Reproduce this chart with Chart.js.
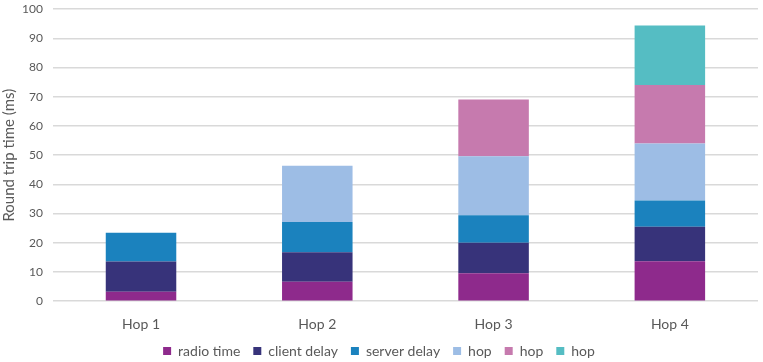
<!DOCTYPE html>
<html>
<head>
<meta charset="utf-8">
<script src="https://cdn.jsdelivr.net/npm/chart.js@4.4.0/dist/chart.umd.min.js"></script>
<style>
  html, body { margin: 0; padding: 0; background: #fff; }
  #wrap { width: 763px; height: 362px; }
</style>
</head>
<body>
<div id="wrap"><canvas id="chart"></canvas></div>
<script>
const hops = ['Hop 1', 'Hop 2', 'Hop 3', 'Hop 4'];
const radioTime = [3.2, 6.7, 9.6, 13.7];
const clientDelay = [10.4, 10.1, 10.4, 11.8];
const serverDelay = [9.8, 10.3, 9.4, 9.0];
const hopA = [0, 19.3, 20.2, 19.5];
const hopB = [0, 0, 19.5, 20.0];
const hopC = [0, 0, 0, 20.4];
const yTicks = [0, 10, 20, 30, 40, 50, 60, 70, 80, 90, 100];

Chart.defaults.font.family = "Lato, 'Open Sans', sans-serif";
Chart.defaults.color = '#595959';

const series = [
    { label: 'radio time', data: radioTime, color: '#8e2a8c' },
    { label: 'client delay', data: clientDelay, color: '#37337a' },
    { label: 'server delay', data: serverDelay, color: '#1b82be' },
    { label: 'hop', data: hopA, color: '#9dbde5' },
    { label: 'hop', data: hopB, color: '#c67aae' },
    { label: 'hop', data: hopC, color: '#55bdc3' },
];

// legend padding also pads it vertically, so take some height back
// and draw the row a bit higher
const tightLegend = {
    id: 'tightLegend',
    afterInit(chart) {
        const lg = chart.legend;
        const fit = lg.fit;
        const draw = lg.draw;
        lg.fit = function () {
            fit.call(this);
            this.height -= 15;
        };
        lg.draw = function () {
            this.top -= 9;
            draw.call(this);
            this.top += 9;
        };
    }
};

const ctx = document.getElementById('chart').getContext('2d');
new Chart(ctx, {
    type: 'bar',
    data: {
        labels: hops,
        datasets: series.map(s => ({
            label: s.label,
            data: s.data,
            backgroundColor: s.color,
            borderWidth: 0,
            categoryPercentage: 0.4,
            barPercentage: 1,
        })),
    },
    plugins: [tightLegend],
    options: {
        responsive: true,
        maintainAspectRatio: false,
        animation: false,
        layout: { padding: { left: 0, right: 5, top: 0, bottom: 0 } },
        plugins: {
            legend: {
                position: 'bottom',
                labels: {
                    boxWidth: 8,
                    boxHeight: 8,
                    padding: 13,
                    font: { size: 14 },
                    color: '#595959'
                }
            },
            tooltip: { enabled: false }
        },
        scales: {
            x: {
                stacked: true,
                grid: { display: false },
                border: { display: false },
                ticks: { font: { size: 14 }, color: '#595959', padding: 7 }
            },
            y: {
                stacked: true,
                min: 0,
                max: 100,
                afterBuildTicks: axis => { axis.ticks = yTicks.map(v => ({ value: v })); },
                grid: { color: '#d9d9d9', lineWidth: 1.5, tickLength: 8, tickColor: 'rgba(0,0,0,0)' },
                border: { display: false },
                title: {
                    display: true,
                    text: 'Round trip time (ms)',
                    font: { size: 15 },
                    color: '#595959',
                    padding: { top: 0, bottom: 2 }
                },
                ticks: { font: { size: 12 }, color: '#595959', padding: 2 }
            }
        }
    }
});
</script>
</body>
</html>
